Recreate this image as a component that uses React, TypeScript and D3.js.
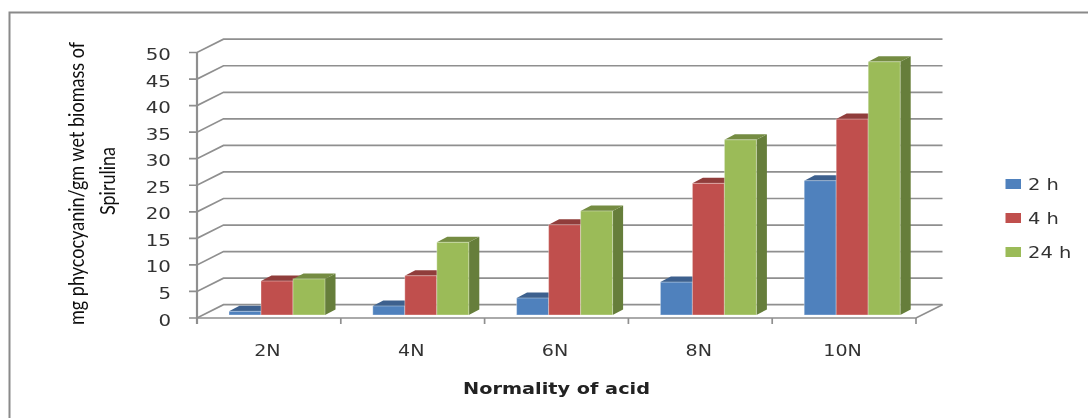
import React from "react";
import * as d3 from "d3";

const categories = ["2N", "4N", "6N", "8N", "10N"];
const seriesNames = ["2 h", "4 h", "24 h"];
const values2h = [0.7, 1.7, 3.2, 6.2, 25.3];
const values4h = [6.4, 7.4, 17.0, 24.8, 36.9];
const values24h = [6.8, 13.7, 19.6, 33.0, 47.7];
const yTicks = [0, 5, 10, 15, 20, 25, 30, 35, 40, 45, 50];
const frontColors = ["#4f81bd", "#c0504d", "#9bbb59"];
const topColors = ["#3c618e", "#903c3a", "#748c43"];
const sideColors = ["#3c618e", "#903c3a", "#667e3a"];

const W = 1088, H = 418;
const left = 197, right = 916, bottom = 318, top = 52.5;
const depthX = 26.5, depthY = -13.3;
const barDX = 10.5, barDY = -5.5, barBase = 315;
const grid = "#8f8f8f";
const textCol = "#333";

export default function App() {
  const x = d3.scaleBand<string>().domain(categories).range([left, right]);
  const y = d3.scaleLinear().domain([0, 50]).range([bottom, top]);
  const inner = d3.scaleBand<string>().domain(seriesNames).range([32, 128]);
  const legendY = d3.scalePoint<string>().domain(seriesNames).range([190, 258]);
  const all = [values2h, values4h, values24h];
  const poly = (p: number[][]) => d3.line()(p as [number, number][]) + "Z";

  return (
    <svg width={W} height={H} style={{ position: "fixed", left: 0, top: 0, background: "#fff" }}>
      <defs>
        <filter id="soft" x="-5%" y="-5%" width="110%" height="110%">
          <feGaussianBlur stdDeviation="0.5" />
        </filter>
      </defs>
      <g filter="url(#soft)">
        <path d={`M9.5,418V12.5H1088`} fill="none" stroke="#8a8a8a" strokeWidth={2} />

        {yTicks.map((t) => (
          <path key={t} stroke={grid} strokeWidth={1.7} fill="none"
            d={`M${left - 8},${y(t)}H${left}L${left + depthX},${y(t) + depthY}H${right + depthX}`} />
        ))}
        <path d={`M${left},${top}V${bottom + 6}`} stroke={grid} strokeWidth={2.2} fill="none" />
        <path d={`M${left},${bottom}H${right}L${right + depthX},${bottom + depthY}`} stroke={grid} strokeWidth={1.7} fill="none" />
        {[...categories.map((c) => x(c)!), right].map((v, i) => (
          <path key={i} d={`M${v},${bottom}V${bottom + 6}`} stroke={grid} strokeWidth={1.7} />
        ))}

        {categories.map((c, i) => (
          <g key={c}>
            {seriesNames.map((s, k) => {
              const x0 = x(c)! + inner(s)!;
              const w = inner.bandwidth();
              const h = y(0) - y(all[k][i]);
              const yt = barBase - h;
              return (
                <g key={s}>
                  <path d={poly([[x0 + w, yt], [x0 + w + barDX, yt + barDY], [x0 + w + barDX, barBase + barDY], [x0 + w, barBase]])} fill={sideColors[k]} />
                  <path d={poly([[x0, yt], [x0 + barDX, yt + barDY], [x0 + w + barDX, yt + barDY], [x0 + w, yt]])} fill={topColors[k]} />
                </g>
              );
            })}
            {seriesNames.map((s, k) => {
              const x0 = x(c)! + inner(s)!;
              const w = inner.bandwidth();
              const h = y(0) - y(all[k][i]);
              return <rect key={s} x={x0} y={barBase - h} width={w} height={h} fill={frontColors[k]} stroke="#fff" strokeOpacity={0.35} strokeWidth={1} />;
            })}
          </g>
        ))}

        {yTicks.map((t) => (
          <text key={t} transform={`translate(171,${y(t) + 7.5}) scale(1.28,1)`} textAnchor="end" fontFamily="DejaVu Sans" fontSize={15.5} fill={textCol}>{t}</text>
        ))}
        {categories.map((c) => (
          <text key={c} transform={`translate(${x(c)! + x.bandwidth() / 2 - 1.5},355.5) scale(1.23,1)`} textAnchor="middle" fontFamily="DejaVu Sans" fontSize={15.5} fill={textCol}>{c}</text>
        ))}
        <text x={556.5} y={394} textAnchor="middle" textLength={187} lengthAdjust="spacingAndGlyphs" fontFamily="DejaVu Sans" fontWeight="bold" fontSize={15.5} fill="#222">Normality of acid</text>

        <g fontFamily="Lato" fontSize={21} fill="#111" textAnchor="middle">
          <text transform="translate(84,183.5) rotate(-90)" textLength={283} lengthAdjust="spacingAndGlyphs">mg phycocyanin/gm wet biomass of</text>
          <text transform="translate(115,181) rotate(-90)" textLength={68} lengthAdjust="spacingAndGlyphs">Spirulina</text>
        </g>

        {seriesNames.map((s, k) => {
          const ly = legendY(s)!;
          return (
            <g key={s}>
              <rect x={1005.5} y={ly - 11} width={15.5} height={10} fill={frontColors[k]} />
              <text transform={`translate(1028,${ly}) scale(1.22,1)`} fontFamily="DejaVu Sans" fontSize={16} fill={textCol}>{s}</text>
            </g>
          );
        })}
      </g>
    </svg>
  );
}
